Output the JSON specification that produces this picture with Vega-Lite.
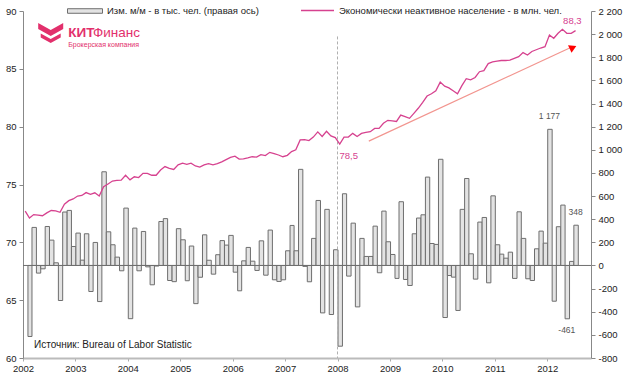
{
  "$schema": "https://vega.github.io/schema/vega-lite/v6.json",
  "width": 568,
  "height": 347,
  "autosize": {"type": "none"},
  "padding": {"left": 23, "top": 11, "right": 39, "bottom": 27},
  "background": "white",
  "config": {
    "view": {"stroke": null},
    "font": "Liberation Sans",
    "locale": {"number": {"decimal": ",", "thousands": " ", "grouping": [3], "currency": ["", ""], "minus": "-"}},
    "axis": {"labelFont": "Liberation Sans", "labelFontSize": 9.5, "labelColor": "#222222", "grid": false, "title": null, "tickColor": "#888888", "domainColor": "#888888", "tickSize": 4, "labelOverlap": false},
    "legend": {"labelFont": "Liberation Sans", "labelFontSize": 9.5, "labelColor": "#222222", "padding": 0, "labelLimit": 0}
  },
  "datasets": {
    "m": [
      {"d": "2002-01-15", "chg": null, "nilf": 72.7},
      {"d": "2002-02-15", "chg": -614, "nilf": 72.1},
      {"d": "2002-03-15", "chg": 329, "nilf": 72.4},
      {"d": "2002-04-15", "chg": -66, "nilf": 72.35},
      {"d": "2002-05-15", "chg": -29, "nilf": 72.3},
      {"d": "2002-06-15", "chg": 337, "nilf": 72.55},
      {"d": "2002-07-15", "chg": 219, "nilf": 72.75},
      {"d": "2002-08-15", "chg": 23, "nilf": 72.72},
      {"d": "2002-09-15", "chg": -303, "nilf": 72.6},
      {"d": "2002-10-15", "chg": 462, "nilf": 73.3},
      {"d": "2002-11-15", "chg": 476, "nilf": 73.6},
      {"d": "2002-12-15", "chg": 164, "nilf": 73.75},
      {"d": "2003-01-15", "chg": 280, "nilf": 74.0},
      {"d": "2003-02-15", "chg": 46, "nilf": 74.05},
      {"d": "2003-03-15", "chg": 274, "nilf": 74.3},
      {"d": "2003-04-15", "chg": -225, "nilf": 74.15},
      {"d": "2003-05-15", "chg": 199, "nilf": 74.28},
      {"d": "2003-06-15", "chg": -312, "nilf": 74.0},
      {"d": "2003-07-15", "chg": 810, "nilf": 74.8},
      {"d": "2003-08-15", "chg": 291, "nilf": 75.05},
      {"d": "2003-09-15", "chg": 179, "nilf": 75.3},
      {"d": "2003-10-15", "chg": 72, "nilf": 75.35},
      {"d": "2003-11-15", "chg": -46, "nilf": 75.38},
      {"d": "2003-12-15", "chg": 496, "nilf": 75.8},
      {"d": "2004-01-15", "chg": -460, "nilf": 75.4},
      {"d": "2004-02-15", "chg": 323, "nilf": 75.67},
      {"d": "2004-03-15", "chg": -46, "nilf": 75.6},
      {"d": "2004-04-15", "chg": 294, "nilf": 75.96},
      {"d": "2004-05-15", "chg": -12, "nilf": 75.96},
      {"d": "2004-06-15", "chg": -167, "nilf": 75.8},
      {"d": "2004-07-15", "chg": -5, "nilf": 75.8},
      {"d": "2004-08-15", "chg": 380, "nilf": 76.25},
      {"d": "2004-09-15", "chg": 405, "nilf": 76.55},
      {"d": "2004-10-15", "chg": -130, "nilf": 76.4},
      {"d": "2004-11-15", "chg": -140, "nilf": 76.3},
      {"d": "2004-12-15", "chg": 318, "nilf": 76.7},
      {"d": "2005-01-15", "chg": 222, "nilf": 76.85},
      {"d": "2005-02-15", "chg": -132, "nilf": 76.75},
      {"d": "2005-03-15", "chg": 168, "nilf": 76.85},
      {"d": "2005-04-15", "chg": -330, "nilf": 76.6},
      {"d": "2005-05-15", "chg": -102, "nilf": 76.5},
      {"d": "2005-06-15", "chg": 265, "nilf": 76.7},
      {"d": "2005-07-15", "chg": 45, "nilf": 76.8},
      {"d": "2005-08-15", "chg": -75, "nilf": 76.7},
      {"d": "2005-09-15", "chg": 93, "nilf": 76.8},
      {"d": "2005-10-15", "chg": 215, "nilf": 76.95},
      {"d": "2005-11-15", "chg": 176, "nilf": 77.15},
      {"d": "2005-12-15", "chg": 260, "nilf": 77.35},
      {"d": "2006-01-15", "chg": -58, "nilf": 77.45},
      {"d": "2006-02-15", "chg": -219, "nilf": 77.2},
      {"d": "2006-03-15", "chg": 40, "nilf": 77.22},
      {"d": "2006-04-15", "chg": 156, "nilf": 77.3},
      {"d": "2006-05-15", "chg": 37, "nilf": 77.4},
      {"d": "2006-06-15", "chg": -43, "nilf": 77.37},
      {"d": "2006-07-15", "chg": 213, "nilf": 77.58},
      {"d": "2006-08-15", "chg": -84, "nilf": 77.5},
      {"d": "2006-09-15", "chg": 306, "nilf": 77.78},
      {"d": "2006-10-15", "chg": -124, "nilf": 77.67},
      {"d": "2006-11-15", "chg": -138, "nilf": 77.55},
      {"d": "2006-12-15", "chg": -124, "nilf": 77.4},
      {"d": "2007-01-15", "chg": 127, "nilf": 77.52},
      {"d": "2007-02-15", "chg": 346, "nilf": 77.85},
      {"d": "2007-03-15", "chg": 127, "nilf": 78.0},
      {"d": "2007-04-15", "chg": 831, "nilf": 78.85},
      {"d": "2007-05-15", "chg": -8, "nilf": 78.88},
      {"d": "2007-06-15", "chg": -141, "nilf": 78.8},
      {"d": "2007-07-15", "chg": 234, "nilf": 79.1},
      {"d": "2007-08-15", "chg": 562, "nilf": 79.55},
      {"d": "2007-09-15", "chg": -410, "nilf": 79.15},
      {"d": "2007-10-15", "chg": 485, "nilf": 79.6},
      {"d": "2007-11-15", "chg": -424, "nilf": 79.2},
      {"d": "2007-12-15", "chg": 136, "nilf": 79.05},
      {"d": "2008-01-15", "chg": -698, "nilf": 78.5},
      {"d": "2008-02-15", "chg": 620, "nilf": 79.1},
      {"d": "2008-03-15", "chg": -92, "nilf": 79.1},
      {"d": "2008-04-15", "chg": 366, "nilf": 79.42},
      {"d": "2008-05-15", "chg": -358, "nilf": 79.15},
      {"d": "2008-06-15", "chg": 234, "nilf": 79.42},
      {"d": "2008-07-15", "chg": 78, "nilf": 79.5},
      {"d": "2008-08-15", "chg": 78, "nilf": 79.56},
      {"d": "2008-09-15", "chg": 340, "nilf": 79.85},
      {"d": "2008-10-15", "chg": -63, "nilf": 79.85},
      {"d": "2008-11-15", "chg": 470, "nilf": 80.29},
      {"d": "2008-12-15", "chg": 205, "nilf": 80.55},
      {"d": "2009-01-15", "chg": 95, "nilf": 80.5},
      {"d": "2009-02-15", "chg": -112, "nilf": 80.45},
      {"d": "2009-03-15", "chg": 551, "nilf": 81.0},
      {"d": "2009-04-15", "chg": -121, "nilf": 80.87},
      {"d": "2009-05-15", "chg": -173, "nilf": 80.72},
      {"d": "2009-06-15", "chg": 274, "nilf": 81.15},
      {"d": "2009-07-15", "chg": 410, "nilf": 81.59},
      {"d": "2009-08-15", "chg": 438, "nilf": 82.1},
      {"d": "2009-09-15", "chg": 764, "nilf": 82.65},
      {"d": "2009-10-15", "chg": 190, "nilf": 82.85},
      {"d": "2009-11-15", "chg": 182, "nilf": 83.1},
      {"d": "2009-12-15", "chg": 918, "nilf": 83.85},
      {"d": "2010-01-15", "chg": -450, "nilf": 83.5},
      {"d": "2010-02-15", "chg": -87, "nilf": 83.35},
      {"d": "2010-03-15", "chg": -101, "nilf": 83.1},
      {"d": "2010-04-15", "chg": -389, "nilf": 82.85},
      {"d": "2010-05-15", "chg": 485, "nilf": 83.55},
      {"d": "2010-06-15", "chg": 752, "nilf": 84.15},
      {"d": "2010-07-15", "chg": 101, "nilf": 84.05},
      {"d": "2010-08-15", "chg": -118, "nilf": 84.25},
      {"d": "2010-09-15", "chg": 375, "nilf": 84.75},
      {"d": "2010-10-15", "chg": 415, "nilf": 84.85},
      {"d": "2010-11-15", "chg": -150, "nilf": 85.45},
      {"d": "2010-12-15", "chg": 602, "nilf": 85.6},
      {"d": "2011-01-15", "chg": 179, "nilf": 85.67},
      {"d": "2011-02-15", "chg": 98, "nilf": 85.72},
      {"d": "2011-03-15", "chg": 63, "nilf": 85.72},
      {"d": "2011-04-15", "chg": 115, "nilf": 85.75},
      {"d": "2011-05-15", "chg": -112, "nilf": 85.9},
      {"d": "2011-06-15", "chg": 464, "nilf": 86.05},
      {"d": "2011-07-15", "chg": 234, "nilf": 86.4},
      {"d": "2011-08-15", "chg": -115, "nilf": 86.2},
      {"d": "2011-09-15", "chg": -130, "nilf": 86.5},
      {"d": "2011-10-15", "chg": 144, "nilf": 86.65},
      {"d": "2011-11-15", "chg": 297, "nilf": 86.8},
      {"d": "2011-12-15", "chg": 193, "nilf": 86.92},
      {"d": "2012-01-15", "chg": 1177, "nilf": 87.93},
      {"d": "2012-02-15", "chg": -309, "nilf": 87.64},
      {"d": "2012-03-15", "chg": 335, "nilf": 88.07},
      {"d": "2012-04-15", "chg": 522, "nilf": 88.42},
      {"d": "2012-05-15", "chg": -461, "nilf": 88.07},
      {"d": "2012-06-15", "chg": 35, "nilf": 88.07},
      {"d": "2012-07-15", "chg": 348, "nilf": 88.3}
    ],
    "one": [{}]
  },
  "layer": [
    {
      "data": {"name": "m"},
      "mark": {"type": "bar", "stroke": "#6E6E6E", "strokeWidth": 1, "binSpacing": 0},
      "encoding": {
        "x": {
          "field": "d", "timeUnit": "yearmonth", "type": "temporal",
          "scale": {"domain": [{"year": 2002, "month": 1, "date": 1}, {"year": 2012, "month": 11, "date": 1}], "nice": false},
          "axis": {"tickCount": {"interval": "year", "step": 1}, "format": "%Y", "labelFlush": false, "labelOverlap": false, "tickSize": 3, "labelPadding": 2, "domainColor": "#BBBBBB", "domainWidth": 2, "tickColor": "#AAAAAA"}
        },
        "y": {
          "field": "chg", "type": "quantitative",
          "scale": {"domain": [-800, 2200], "nice": false},
          "axis": {"orient": "right", "values": [-800, -600, -400, -200, 0, 200, 400, 600, 800, 1000, 1200, 1400, 1600, 1800, 2000, 2200], "format": ",d", "labelPadding": 3, "labelOverlap": false}
        },
        "fill": {
          "datum": "Изм. м/м - в тыс. чел. (правая ось)", "type": "nominal",
          "scale": {"range": ["#E3E3E3"]},
          "legend": {"orient": "none", "legendX": 44, "legendY": -18, "title": null, "symbolType": "M-1,-0.13L1,-0.13L1,0.13L-1,0.13Z", "symbolSize": 1225, "symbolStrokeColor": "#6E6E6E", "symbolStrokeWidth": 1, "labelOffset": 4}
        }
      }
    },
    {
      "data": {"name": "one"},
      "mark": {"type": "rule", "color": "#6E6E6E", "strokeWidth": 1},
      "encoding": {"y": {"datum": 0, "type": "quantitative", "scale": {"domain": [-800, 2200], "nice": false}, "axis": null}}
    },
    {
      "data": {"name": "m"},
      "transform": [{"filter": "datum.chg == 1177 || datum.chg == 348"}],
      "mark": {"type": "text", "fontSize": 8.5, "color": "#555555", "baseline": "bottom", "dy": -8},
      "encoding": {
        "x": {"field": "d", "timeUnit": "yearmonth", "type": "temporal", "bandPosition": 0.5},
        "y": {"field": "chg", "type": "quantitative", "scale": {"domain": [-800, 2200], "nice": false}, "axis": null},
        "text": {"field": "chg", "type": "quantitative", "format": ",d"}
      }
    },
    {
      "data": {"name": "m"},
      "transform": [{"filter": "datum.chg == -461"}],
      "mark": {"type": "text", "fontSize": 8.5, "color": "#555555", "baseline": "top", "dy": 7},
      "encoding": {
        "x": {"field": "d", "timeUnit": "yearmonth", "type": "temporal", "bandPosition": 0.5},
        "y": {"field": "chg", "type": "quantitative", "scale": {"domain": [-800, 2200], "nice": false}, "axis": null},
        "text": {"field": "chg", "type": "quantitative", "format": ",d"}
      }
    },
    {
      "data": {"name": "m"},
      "layer": [
        {
          "data": {"name": "one"},
          "mark": {"type": "rule", "color": "#B0B0B0", "strokeWidth": 1, "strokeDash": [3, 2]},
          "encoding": {
            "x": {"datum": {"year": 2008, "month": 1, "date": 1}, "type": "temporal"},
            "y": {"datum": 87.8},
            "y2": {"datum": 60}
          }
        },
        {
          "mark": {"type": "line", "strokeWidth": 1.3},
          "encoding": {
            "x": {"field": "d", "timeUnit": "yearmonth", "type": "temporal", "bandPosition": 0.5},
            "y": {
              "field": "nilf", "type": "quantitative",
              "scale": {"domain": [60, 90], "nice": false, "zero": false},
              "axis": {"orient": "left", "values": [60, 65, 70, 75, 80, 85, 90], "labelPadding": 3, "labelOverlap": false}
            },
            "stroke": {
              "datum": "Экономически неактивное население - в млн. чел.", "type": "nominal",
              "scale": {"range": ["#D6428F"]},
              "legend": {"orient": "none", "legendX": 277, "legendY": -18, "title": null, "symbolType": "stroke", "symbolSize": 1089, "symbolStrokeWidth": 1.3, "labelOffset": 4}
            }
          }
        },
        {
          "data": {"name": "one"},
          "mark": {"type": "rule", "color": "#F2958F", "strokeWidth": 1.2},
          "encoding": {
            "x": {"datum": {"year": 2008, "month": 8, "date": 6}, "type": "temporal"},
            "y": {"datum": 78.75},
            "x2": {"datum": {"year": 2012, "month": 6, "date": 24}},
            "y2": {"datum": 86.91}
          }
        },
        {
          "data": {"name": "one"},
          "mark": {"type": "point", "shape": "triangle-right", "filled": true, "color": "#FF0000", "size": 70, "angle": 335, "opacity": 1},
          "encoding": {
            "x": {"datum": {"year": 2012, "month": 6, "date": 29}, "type": "temporal"},
            "y": {"datum": 86.85}
          }
        },
        {
          "data": {"name": "one"},
          "mark": {"type": "text", "text": "78,5", "fontSize": 9.5, "color": "#D6428F", "align": "left", "baseline": "top", "dy": 7},
          "encoding": {
            "x": {"datum": {"year": 2008, "month": 1, "date": 15}, "type": "temporal"},
            "y": {"datum": 78.5}
          }
        },
        {
          "data": {"name": "one"},
          "mark": {"type": "text", "text": "88,3", "fontSize": 9.5, "color": "#D6428F", "align": "center", "baseline": "bottom", "dx": -3, "dy": -5},
          "encoding": {
            "x": {"datum": {"year": 2012, "month": 7, "date": 15}, "type": "temporal"},
            "y": {"datum": 88.3}
          }
        },
        {
          "data": {"name": "one"},
          "mark": {"type": "point", "shape": "M-1,-0.8L0,-0.24L1,-0.8L1,-0.32L0,0.24L-1,-0.32ZM-0.8,0.04L0,0.48L0.8,0.04L0.8,0.36L0,0.8L-0.8,0.36Z", "filled": true, "color": "#E2306C", "size": 625, "opacity": 1},
          "encoding": {
            "x": {"datum": {"year": 2002, "month": 7, "date": 13}, "type": "temporal"},
            "y": {"datum": 88.1}
          }
        },
        {
          "data": {"name": "one"},
          "mark": {"type": "text", "text": "КИТ", "fontSize": 13.5, "fontWeight": "bold", "color": "#E2306C", "align": "left", "baseline": "middle"},
          "encoding": {
            "x": {"datum": {"year": 2002, "month": 11, "date": 12}, "type": "temporal"},
            "y": {"datum": 88.14}
          }
        },
        {
          "data": {"name": "one"},
          "mark": {"type": "text", "text": "Финанс", "fontSize": 13.5, "color": "#E2306C", "align": "left", "baseline": "middle"},
          "encoding": {
            "x": {"datum": {"year": 2003, "month": 5, "date": 3}, "type": "temporal"},
            "y": {"datum": 88.14}
          }
        },
        {
          "data": {"name": "one"},
          "mark": {"type": "text", "text": "Брокерская компания", "fontSize": 7, "color": "#E2306C", "align": "left", "baseline": "middle"},
          "encoding": {
            "x": {"datum": {"year": 2002, "month": 11, "date": 12}, "type": "temporal"},
            "y": {"datum": 87.06}
          }
        },
        {
          "data": {"name": "one"},
          "mark": {"type": "text", "text": "Источник: Bureau of Labor Statistic", "fontSize": 10, "color": "#222222", "align": "left", "baseline": "middle"},
          "encoding": {
            "x": {"datum": {"year": 2002, "month": 3, "date": 19}, "type": "temporal"},
            "y": {"datum": 61.1}
          }
        }
      ]
    }
  ],
  "resolve": {"scale": {"y": "independent"}}
}
